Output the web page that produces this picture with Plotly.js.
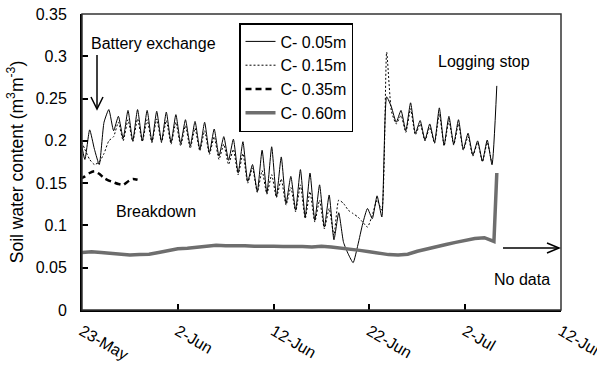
<!DOCTYPE html>
<html>
<head>
<meta charset="utf-8">
<script src="https://cdn.plot.ly/plotly-3.0.1.min.js"></script>
<style>html,body{margin:0;padding:0;background:#fff;}#chart{width:597px;height:365px;}</style>
</head>
<body>
<div id="chart"></div>
<script>
// ---- data (days since 23-May, half-day sampling for the shallow sensors) ----
const seriesNames = ['C- 0.05m', 'C- 0.15m', 'C- 0.35m', 'C- 0.60m'];
const tickLabels = ['23-May', '2-Jun', '12-Jun', '22-Jun', '2-Jul', '12-Jul'];
const tickDays = [0, 10, 20, 30, 40, 50];

const c005 = [0.205,0.178,0.213,0.190,0.172,0.222,0.237,0.212,0.229,0.203,
  0.236,0.200,0.237,0.200,0.236,0.199,0.235,0.199,0.234,0.198,
  0.231,0.197,0.225,0.194,0.223,0.190,0.222,0.186,0.214,0.182,
  0.205,0.177,0.202,0.162,0.199,0.152,0.172,0.140,0.189,0.138,
  0.193,0.134,0.181,0.126,0.158,0.118,0.166,0.110,0.162,0.106,
  0.148,0.098,0.136,0.083,0.115,0.080,0.066,0.056,0.077,0.102,
  0.120,0.108,0.135,0.110,0.252,0.240,0.222,0.236,0.212,0.245,
  0.209,0.224,0.201,0.220,0.198,0.239,0.195,0.229,0.196,0.225,
  0.190,0.209,0.183,0.200,0.176,0.201,0.172,0.265];
const c015 = [0.203,0.190,0.178,0.172,0.175,0.185,0.200,0.205,0.222,0.200,
  0.225,0.199,0.226,0.199,0.225,0.198,0.226,0.198,0.224,0.196,
  0.222,0.194,0.218,0.191,0.215,0.188,0.212,0.184,0.205,0.178,
  0.196,0.172,0.190,0.160,0.185,0.150,0.168,0.139,0.165,0.137,
  0.160,0.133,0.155,0.124,0.145,0.116,0.148,0.108,0.140,0.104,
  0.130,0.096,0.120,0.088,0.130,0.126,0.118,0.114,0.110,0.104,
  0.098,0.112,0.130,0.118,0.305,0.235,0.220,0.230,0.210,0.238,
  0.207,0.220,0.200,0.216,0.197,0.232,0.194,0.224,0.195,0.220,
  0.189,0.205,0.182,0.198,0.175,0.198,0.172];
const c035 = [0.155,0.158,0.162,0.164,0.161,0.156,0.153,0.151,0.149,0.148,0.152,0.155,0.154];
const dayG = [0,1,2,3,4,5,6,7,8,9,10,11,12,13,14,15,16,17,18,19,20,21,
  22,23,24,25,26,27,28,29,30,31,32,33,34,35,36,37,38,39,40,41,42,43,43.3];
const c060 = [0.068,0.069,0.068,0.067,0.066,0.065,0.0655,0.066,0.068,0.070,
  0.0725,0.073,0.0745,0.075,0.0765,0.076,0.0765,0.076,0.0755,0.076,
  0.0755,0.075,0.0755,0.075,0.0745,0.0755,0.0745,0.0735,0.072,0.0705,
  0.069,0.067,0.0655,0.065,0.066,0.0695,0.0725,0.0755,0.0775,0.080,
  0.0825,0.0845,0.0855,0.081,0.162];

// ---- helpers ----
const BASE = Date.UTC(2009, 4, 23);
function toDate(d) {
  return new Date(BASE + d * 864e5).toISOString().slice(0, 19).replace('T', ' ');
}
const halfDays = n => Array.from({length: n}, (_, i) => -0.2 + 0.5 * i);

// plot area in pixels (for annotation placement)
const L = 82, R = 561, T = 14, B = 310;
const px = x => (x - L) / (R - L);
const py = y => (B - y) / (B - T);
function path(pts) {
  return pts.map((p, i) => (i ? 'L' : 'M') + px(p[0]) + ',' + py(p[1])).join(' ');
}

const FONT = '"Liberation Sans", Arial, sans-serif';

const traces = [
  {x: halfDays(c005.length).map(toDate), y: c005, name: seriesNames[0], mode: 'lines',
   line: {color: '#000', width: 1, shape: 'spline', smoothing: 0.5}},
  {x: halfDays(c015.length).map(toDate), y: c015, name: seriesNames[1], mode: 'lines',
   line: {color: '#000', width: 1, dash: '2px,2px', shape: 'spline', smoothing: 0.5}},
  {x: halfDays(c035.length).map(toDate), y: c035, name: seriesNames[2], mode: 'lines',
   line: {color: '#000', width: 2.5, dash: '6px,4px', shape: 'spline', smoothing: 0.6}},
  {x: dayG.map(toDate), y: c060, name: seriesNames[3], mode: 'lines',
   line: {color: '#6e6e6e', width: 3.5}}
];

const annFont = {family: FONT, size: 16, color: '#000'};
const layout = {
  width: 597, height: 365,
  margin: {l: L, r: 597 - R, t: T, b: 365 - B},
  paper_bgcolor: '#fff', plot_bgcolor: '#fff',
  font: {family: FONT, size: 16, color: '#000'},
  showlegend: true,
  legend: {
    x: px(239), y: py(23), xanchor: 'left', yanchor: 'top',
    bgcolor: '#fff', bordercolor: '#000', borderwidth: 1.5,
    font: {family: FONT, size: 16, color: '#000'},
    tracegroupgap: 0
  },
  xaxis: {
    type: 'date',
    range: [toDate(tickDays[0]), toDate(tickDays[tickDays.length - 1])],
    tickmode: 'array',
    tickvals: tickDays.map(toDate),
    ticktext: tickLabels,
    tickangle: 30,
    ticks: 'inside', ticklen: 6, tickwidth: 2, tickcolor: '#000',
    showline: true, linewidth: 2, linecolor: '#000',
    showgrid: false, zeroline: false,
    ticklabelstandoff: 4,
    ticklabeloverflow: 'allow',
    tickfont: {family: FONT, size: 16, color: '#000'},
    fixedrange: true
  },
  yaxis: {
    range: [0, 0.35], dtick: 0.05, tick0: 0,
    ticks: 'inside', ticklen: 6, tickwidth: 2, tickcolor: '#000',
    showline: true, linewidth: 2, linecolor: '#000',
    showgrid: false, zeroline: false,
    ticklabelstandoff: 10,
    tickfont: {family: FONT, size: 16, color: '#000'},
    title: {text: 'Soil water content (m<sup>3</sup>m<sup>-3</sup>)',
            font: {family: FONT, size: 17.5, color: '#000'}, standoff: 8},
    fixedrange: true
  },
  shapes: [
    {type: 'rect', xref: 'paper', yref: 'paper', x0: 0, x1: 1, y0: 0, y1: 1,
     line: {color: '#333', width: 1.5}},
    {type: 'path', xref: 'paper', yref: 'paper', path: path([[97, 55], [97, 108]]),
     line: {color: '#000', width: 1.5}},
    {type: 'path', xref: 'paper', yref: 'paper', path: path([[91, 97], [97, 109], [103, 97]]),
     line: {color: '#000', width: 1.5}},
    {type: 'path', xref: 'paper', yref: 'paper', path: path([[503, 248], [559, 248]]),
     line: {color: '#000', width: 1.5}},
    {type: 'path', xref: 'paper', yref: 'paper', path: path([[547, 243], [559, 248], [547, 253]]),
     line: {color: '#000', width: 1.5}}
  ],
  annotations: [
    {text: 'Battery exchange', xref: 'paper', yref: 'paper', x: px(89), y: py(44),
     xanchor: 'left', yanchor: 'middle', showarrow: false, font: annFont},
    {text: 'Logging stop', xref: 'paper', yref: 'paper', x: px(436), y: py(61),
     xanchor: 'left', yanchor: 'middle', showarrow: false, font: annFont},
    {text: 'Breakdown', xref: 'paper', yref: 'paper', x: px(114), y: py(212),
     xanchor: 'left', yanchor: 'middle', showarrow: false, font: annFont},
    {text: 'No data', xref: 'paper', yref: 'paper', x: px(492), y: py(279),
     xanchor: 'left', yanchor: 'middle', showarrow: false, font: annFont}
  ]
};

Plotly.newPlot('chart', traces, layout, {staticPlot: true, displayModeBar: false});
</script>
</body>
</html>
